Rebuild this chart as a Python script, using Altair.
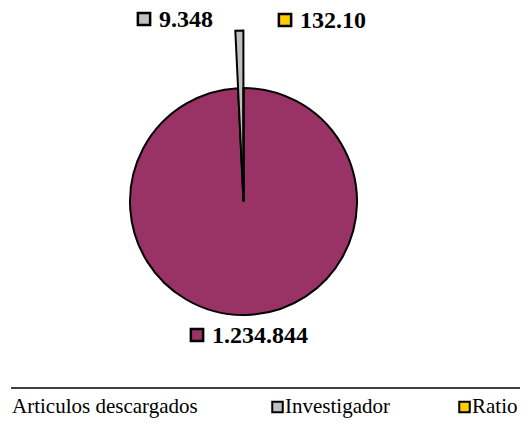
import altair as alt
import pandas as pd

# data
categories = ["Articulos descargados", "Investigador", "Ratio"]
values = [1234844, 9348, 132.10]
labels = ["1.234.844", "9.348", "132.10"]
colors = ["#993366", "#C0C0C0", "#FFCC00"]

# style
W, H = 512, 414
CX, CY = 235.5, 193.5
R_MAIN = 113.5
R_EXPLODE = 171
FONT = "Liberation Serif"

df = pd.DataFrame({
    "cat": categories,
    "value": values,
    "label": labels,
    "order": list(range(len(categories))),
    "r": [R_MAIN, R_EXPLODE, R_MAIN],
})

color_scale = alt.Scale(domain=categories, range=colors)

base = alt.Chart(df)

pie = base.transform_joinaggregate(total="sum(value)").transform_window(
    cum="sum(value)", sort=[alt.SortField("order", order="ascending")],
    frame=[None, 0],
).transform_calculate(
    t0="(datum.cum - datum.value) / datum.total * 2 * PI",
    t1="datum.cum / datum.total * 2 * PI",
).mark_arc(stroke="black", strokeWidth=2).encode(
    theta=alt.Theta("t0:Q", scale=None),
    theta2="t1:Q",
    radius=alt.Radius("r:Q", scale=None),
    color=alt.Color("cat:N", scale=color_scale, legend=None),
    x=alt.value(CX),
    y=alt.value(CY),
)

# data-label positions (pixels, style only)
label_pos = {
    "Investigador": (136, 11),
    "Ratio": (277, 12),
    "Articulos descargados": (189, 327),
}

layers = [pie]
for cat, (sx, sy) in label_pos.items():
    sub = base.transform_filter(alt.datum.cat == cat)
    layers.append(
        sub.mark_square(size=150, stroke="black", strokeWidth=2.5, opacity=1).encode(
            x=alt.value(sx), y=alt.value(sy),
            fill=alt.Color("cat:N", scale=color_scale, legend=None),
        )
    )
    layers.append(
        sub.mark_text(font=FONT, fontSize=24, fontWeight="bold", align="left",
                      baseline="middle", color="black").encode(
            x=alt.value(sx + 15), y=alt.value(sy + 1), text="label:N"
        )
    )

# legend separator line
layers.append(
    base.mark_rule(color="black", strokeWidth=1.5).encode(
        x=alt.value(3), x2=alt.value(W), y=alt.value(380)
    ).transform_filter(alt.datum.order == 0)
)

# manual legend
legend_pos = {
    "Articulos descargados": (None, 4),
    "Investigador": (269.5, 277),
    "Ratio": (456.5, 464),
}
for cat, (sqx, tx) in legend_pos.items():
    sub = base.transform_filter(alt.datum.cat == cat)
    if sqx is not None:
        layers.append(
            sub.mark_square(size=110, stroke="black", strokeWidth=2, opacity=1).encode(
                x=alt.value(sqx), y=alt.value(399),
                fill=alt.Color("cat:N", scale=color_scale, legend=None),
            )
        )
    layers.append(
        sub.mark_text(font=FONT, fontSize=21, align="left", baseline="middle",
                      color="black").encode(
            x=alt.value(tx), y=alt.value(399), text="cat:N"
        )
    )

chart = alt.layer(*layers).properties(
    width=W, height=H, padding=0, autosize=alt.AutoSizeParams(type="none")
).configure_view(stroke=None)

chart.save("out.html", embed_options={"renderer": "svg", "actions": False})
